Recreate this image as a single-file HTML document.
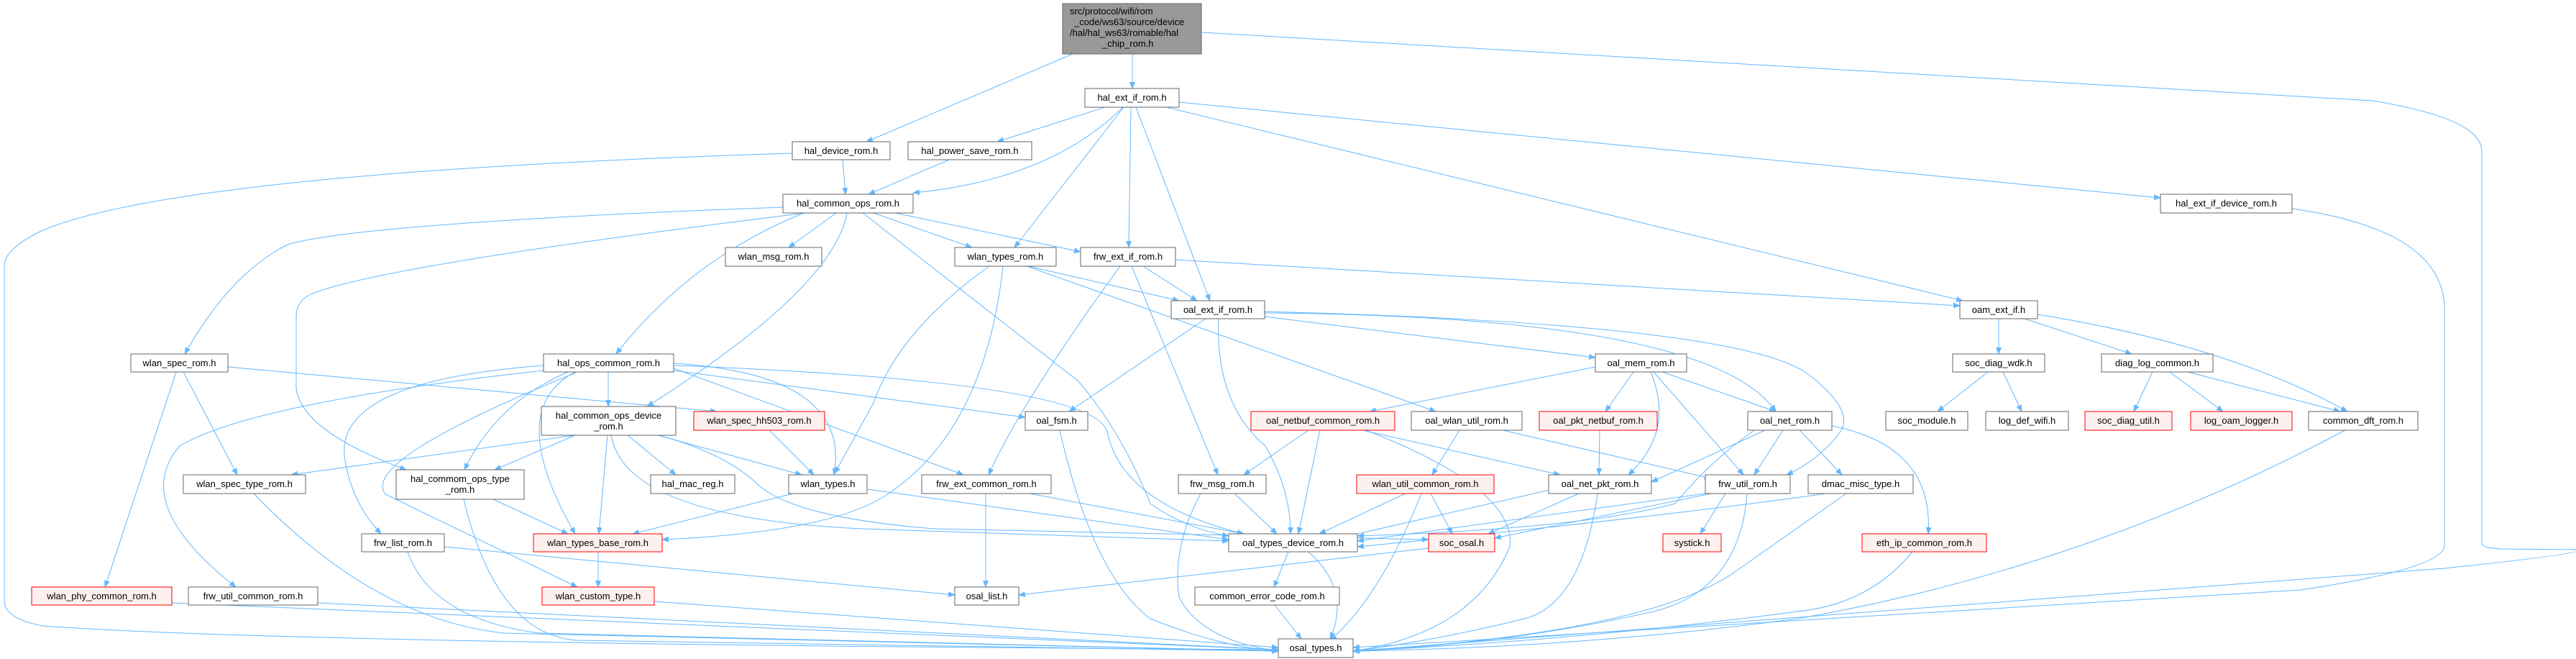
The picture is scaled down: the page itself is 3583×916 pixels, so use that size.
<!DOCTYPE html>
<html><head><meta charset="utf-8"><style>
html,body{margin:0;padding:0;background:#fff;}
svg{display:block;}
text{font-family:"Liberation Sans",sans-serif;font-size:13px;fill:#000;}
.n{fill:#fff;stroke:#666;stroke-width:1;}
.r{fill:#fff0f0;stroke:#f00;stroke-width:1;}
.g{fill:#999;stroke:#666;stroke-width:1;}
.e{fill:none;stroke:#63b8ff;stroke-width:1;marker-end:url(#a);}
</style></head><body>
<svg width="3583" height="916" viewBox="0 0 3583 916" xmlns="http://www.w3.org/2000/svg">
<defs><marker id="a" markerWidth="10" markerHeight="8" refX="9" refY="4" orient="auto" markerUnits="userSpaceOnUse"><path d="M0,0 L10,4 L0,8 z" fill="#63b8ff"/></marker></defs>
<g>
<path class="e" d="M1492,75 L1205,197"/>
<path class="e" d="M1575,75 L1575,123"/>
<path class="e" d="M1671,45 L3300,140 Q3452,165 3452,210 L3452,755 Q3452,762 3480,763 L3590,764 Q3590,770 3400,790 L1882,905"/>
<path class="e" d="M1537,149 L1387,197"/>
<path class="e" d="M1562,149 Q1460,250 1270,268"/>
<path class="e" d="M1563,149 L1411,344"/>
<path class="e" d="M1573,149 L1570,344"/>
<path class="e" d="M1580,149 L1683,418"/>
<path class="e" d="M1640,142 L3005,275"/>
<path class="e" d="M1622,149 L2730,418"/>
<path class="e" d="M1172,222 L1176,270"/>
<path class="e" d="M1102,213 Q250,240 60,320 Q6,345 6,370 L6,835 Q6,860 60,870 Q400,895 1778,903"/>
<path class="e" d="M1320,222 L1208,270"/>
<path class="e" d="M1163,296 L1097,344"/>
<path class="e" d="M1089,288 Q500,310 400,340 Q320,380 257,492"/>
<path class="e" d="M1121,296 Q520,370 430,410 Q412,420 412,440 L412,540 Q420,600 565,653"/>
<path class="e" d="M1118,296 Q960,360 857,492"/>
<path class="e" d="M1178,296 Q1160,400 900,565"/>
<path class="e" d="M1215,296 L1352,344"/>
<path class="e" d="M1245,296 L1503,350"/>
<path class="e" d="M1200,296 L1500,530 Q1560,600 1600,700 Q1650,735 1709,745"/>
<path class="e" d="M1430,370 L1640,418"/>
<path class="e" d="M1428,370 L1997,572"/>
<path class="e" d="M1376,370 Q1250,460 1215,560 L1161,658"/>
<path class="e" d="M1395,370 Q1370,600 1230,690 Q1150,740 921,750"/>
<path class="e" d="M1590,370 L1665,418"/>
<path class="e" d="M1558,370 Q1420,560 1375,660"/>
<path class="e" d="M1574,370 L1694,660"/>
<path class="e" d="M1635,361 L2726,425"/>
<path class="e" d="M1677,443 L1487,572"/>
<path class="e" d="M1695,443 Q1690,560 1760,620 Q1795,680 1795,742"/>
<path class="e" d="M1759,440 L2219,497"/>
<path class="e" d="M1759,435 Q2380,440 2470,572"/>
<path class="e" d="M1759,433 Q2420,450 2515,520 Q2580,570 2560,600 Q2530,640 2485,660"/>
<path class="e" d="M2219,510 L1905,572"/>
<path class="e" d="M2272,517 L2233,572"/>
<path class="e" d="M2296,517 Q2330,600 2265,660"/>
<path class="e" d="M2312,517 L2470,572"/>
<path class="e" d="M2300,517 L2425,660"/>
<path class="e" d="M317,510 L997,572"/>
<path class="e" d="M255,517 L330,660"/>
<path class="e" d="M245,517 L146,816"/>
<path class="e" d="M846,517 L846,565"/>
<path class="e" d="M937,505 Q1185,520 1160,660"/>
<path class="e" d="M790,517 Q690,560 646,653"/>
<path class="e" d="M800,517 Q700,570 800,742"/>
<path class="e" d="M756,508 Q460,530 480,640 Q490,700 530,742"/>
<path class="e" d="M756,515 Q350,560 250,620 Q180,700 328,816"/>
<path class="e" d="M801,518 Q500,640 536,687 L803,816"/>
<path class="e" d="M937,515 L1426,580"/>
<path class="e" d="M937,512 L1340,660"/>
<path class="e" d="M937,508 Q1520,530 1540,600 Q1560,700 1730,742"/>
<path class="e" d="M800,605 L405,660"/>
<path class="e" d="M800,605 L688,653"/>
<path class="e" d="M873,605 L940,660"/>
<path class="e" d="M915,605 L1115,660"/>
<path class="e" d="M845,605 L833,742"/>
<path class="e" d="M850,605 Q870,720 1200,735 L1709,752"/>
<path class="e" d="M916,605 Q1010,630 1057,676 Q1110,720 1300,735 L1987,750"/>
<path class="e" d="M1070,598 L1132,660"/>
<path class="e" d="M353,686 Q520,860 700,880 L1778,905"/>
<path class="e" d="M686,694 L790,742"/>
<path class="e" d="M645,694 Q690,880 800,890 L1778,905"/>
<path class="e" d="M1103,686 L880,742"/>
<path class="e" d="M1206,680 Q1500,720 1709,750"/>
<path class="e" d="M618,760 L1328,827"/>
<path class="e" d="M567,767 Q600,860 750,880 L1778,905"/>
<path class="e" d="M832,767 L832,816"/>
<path class="e" d="M239,838 L1778,903"/>
<path class="e" d="M442,838 L1778,903"/>
<path class="e" d="M910,836 L1778,900"/>
<path class="e" d="M1474,598 Q1520,800 1600,860 Q1700,900 1778,905"/>
<path class="e" d="M1432,686 L1730,742"/>
<path class="e" d="M1371,686 L1371,816"/>
<path class="e" d="M1717,686 L1776,742"/>
<path class="e" d="M1670,686 Q1630,760 1640,830 Q1670,890 1778,905"/>
<path class="e" d="M1820,598 L1730,660"/>
<path class="e" d="M1836,598 L1806,742"/>
<path class="e" d="M1895,598 L2170,660"/>
<path class="e" d="M1900,598 Q2110,680 2100,760 Q2050,880 1882,905"/>
<path class="e" d="M2030,598 L1992,660"/>
<path class="e" d="M2090,598 L2380,665"/>
<path class="e" d="M2225,598 L2224,660"/>
<path class="e" d="M1955,686 L1835,742"/>
<path class="e" d="M1990,686 L2020,742"/>
<path class="e" d="M1977,686 Q1920,830 1850,890"/>
<path class="e" d="M2160,680 L1862,748"/>
<path class="e" d="M2196,686 L2070,742"/>
<path class="e" d="M2222,686 Q2200,840 2120,860 Q2000,890 1882,905"/>
<path class="e" d="M2372,686 L1888,752"/>
<path class="e" d="M2380,686 L2079,748"/>
<path class="e" d="M2400,686 L2365,742"/>
<path class="e" d="M2430,686 Q2420,820 2300,850 Q2100,895 1882,905"/>
<path class="e" d="M2455,598 L2297,670"/>
<path class="e" d="M2480,598 L2440,660"/>
<path class="e" d="M2503,598 L2562,660"/>
<path class="e" d="M2548,592 Q2690,620 2682,742"/>
<path class="e" d="M2440,598 Q2380,640 2330,700 Q2200,735 1888,745"/>
<path class="e" d="M2540,686 Q2300,720 1888,760"/>
<path class="e" d="M2568,686 L2420,790 Q2300,880 1882,905"/>
<path class="e" d="M2660,767 Q2600,840 2500,850 Q2200,890 1882,905"/>
<path class="e" d="M1792,767 L1772,816"/>
<path class="e" d="M1820,767 Q1880,820 1850,888"/>
<path class="e" d="M1987,762 L1417,827"/>
<path class="e" d="M1773,841 L1810,888"/>
<path class="e" d="M2780,443 L2780,492"/>
<path class="e" d="M2816,443 L2965,492"/>
<path class="e" d="M2834,437 Q3100,480 3265,572"/>
<path class="e" d="M2765,517 L2695,572"/>
<path class="e" d="M2786,517 L2812,572"/>
<path class="e" d="M2994,517 L2968,572"/>
<path class="e" d="M3018,517 L3092,572"/>
<path class="e" d="M3043,517 L3255,572"/>
<path class="e" d="M3262,598 Q2900,790 2500,860 Q2200,900 1882,905"/>
<path class="e" d="M3188,290 Q3400,320 3400,430 L3400,758 Q3400,790 3200,820 L1882,900"/>
</g>
<g>
<rect class="g" x="1478" y="5" width="193" height="70"/>
<text x="1488" y="20">src/protocol/wifi/rom</text>
<text x="1494" y="35">_code/ws63/source/device</text>
<text x="1488" y="50">/hal/hal_ws63/romable/hal</text>
<text x="1533" y="65">_chip_rom.h</text>
</g>
<g text-anchor="middle">
<rect class="n" x="1509" y="123" width="131" height="26"/><text x="1574.5" y="140">hal_ext_if_rom.h</text>
<rect class="n" x="1102" y="197" width="136" height="25"/><text x="1170" y="214">hal_device_rom.h</text>
<rect class="n" x="1263" y="197" width="172" height="25"/><text x="1349" y="214">hal_power_save_rom.h</text>
<rect class="n" x="1089" y="270" width="181" height="26"/><text x="1179.5" y="287">hal_common_ops_rom.h</text>
<rect class="n" x="3005" y="270" width="183" height="26"/><text x="3096.5" y="287">hal_ext_if_device_rom.h</text>
<rect class="n" x="1009" y="344" width="134" height="26"/><text x="1076" y="361">wlan_msg_rom.h</text>
<rect class="n" x="1328" y="344" width="141" height="26"/><text x="1398.5" y="361">wlan_types_rom.h</text>
<rect class="n" x="1503" y="344" width="132" height="26"/><text x="1569" y="361">frw_ext_if_rom.h</text>
<rect class="n" x="1629" y="418" width="130" height="25"/><text x="1694" y="435">oal_ext_if_rom.h</text>
<rect class="n" x="2726" y="418" width="108" height="25"/><text x="2780" y="435">oam_ext_if.h</text>
<rect class="n" x="182" y="492" width="135" height="25"/><text x="249.5" y="509">wlan_spec_rom.h</text>
<rect class="n" x="756" y="492" width="181" height="25"/><text x="846.5" y="509">hal_ops_common_rom.h</text>
<rect class="n" x="2219" y="492" width="127" height="25"/><text x="2282.5" y="509">oal_mem_rom.h</text>
<rect class="n" x="2716" y="492" width="128" height="25"/><text x="2780" y="509">soc_diag_wdk.h</text>
<rect class="n" x="2923" y="492" width="155" height="25"/><text x="3000.5" y="509">diag_log_common.h</text>
<rect class="n" x="753" y="565" width="187" height="40"/><text x="846.5" y="582">hal_common_ops_device</text><text x="846.5" y="597">_rom.h</text>
<rect class="r" x="965" y="572" width="182" height="26"/><text x="1056" y="589">wlan_spec_hh503_rom.h</text>
<rect class="n" x="1426" y="572" width="87" height="26"/><text x="1469.5" y="589">oal_fsm.h</text>
<rect class="r" x="1740" y="572" width="200" height="26"/><text x="1840" y="589">oal_netbuf_common_rom.h</text>
<rect class="n" x="1963" y="572" width="154" height="26"/><text x="2040" y="589">oal_wlan_util_rom.h</text>
<rect class="r" x="2141" y="572" width="164" height="26"/><text x="2223" y="589">oal_pkt_netbuf_rom.h</text>
<rect class="n" x="2431" y="572" width="117" height="26"/><text x="2489.5" y="589">oal_net_rom.h</text>
<rect class="n" x="2623" y="572" width="114" height="26"/><text x="2680" y="589">soc_module.h</text>
<rect class="n" x="2762" y="572" width="115" height="26"/><text x="2819.5" y="589">log_def_wifi.h</text>
<rect class="r" x="2900" y="572" width="121" height="26"/><text x="2960.5" y="589">soc_diag_util.h</text>
<rect class="r" x="3047" y="572" width="141" height="26"/><text x="3117.5" y="589">log_oam_logger.h</text>
<rect class="n" x="3211" y="572" width="152" height="26"/><text x="3287" y="589">common_dft_rom.h</text>
<rect class="n" x="255" y="660" width="170" height="26"/><text x="340" y="677">wlan_spec_type_rom.h</text>
<rect class="n" x="551" y="653" width="178" height="41"/><text x="640" y="670">hal_commom_ops_type</text><text x="640" y="685">_rom.h</text>
<rect class="n" x="905" y="660" width="117" height="26"/><text x="963.5" y="677">hal_mac_reg.h</text>
<rect class="n" x="1097" y="660" width="109" height="26"/><text x="1151.5" y="677">wlan_types.h</text>
<rect class="n" x="1282" y="660" width="180" height="26"/><text x="1372" y="677">frw_ext_common_rom.h</text>
<rect class="n" x="1639" y="660" width="122" height="26"/><text x="1700" y="677">frw_msg_rom.h</text>
<rect class="r" x="1887" y="660" width="191" height="26"/><text x="1982.5" y="677">wlan_util_common_rom.h</text>
<rect class="n" x="2154" y="660" width="143" height="26"/><text x="2225.5" y="677">oal_net_pkt_rom.h</text>
<rect class="n" x="2372" y="660" width="118" height="26"/><text x="2431" y="677">frw_util_rom.h</text>
<rect class="n" x="2515" y="660" width="146" height="26"/><text x="2588" y="677">dmac_misc_type.h</text>
<rect class="n" x="503" y="742" width="115" height="25"/><text x="560.5" y="759">frw_list_rom.h</text>
<rect class="r" x="742" y="742" width="179" height="25"/><text x="831.5" y="759">wlan_types_base_rom.h</text>
<rect class="n" x="1709" y="742" width="179" height="25"/><text x="1798.5" y="759">oal_types_device_rom.h</text>
<rect class="r" x="1987" y="742" width="92" height="25"/><text x="2033" y="759">soc_osal.h</text>
<rect class="r" x="2313" y="742" width="81" height="25"/><text x="2353.5" y="759">systick.h</text>
<rect class="r" x="2590" y="742" width="173" height="25"/><text x="2676.5" y="759">eth_ip_common_rom.h</text>
<rect class="r" x="44" y="816" width="195" height="25"/><text x="141.5" y="833">wlan_phy_common_rom.h</text>
<rect class="n" x="262" y="816" width="180" height="25"/><text x="352" y="833">frw_util_common_rom.h</text>
<rect class="r" x="754" y="816" width="156" height="25"/><text x="832" y="833">wlan_custom_type.h</text>
<rect class="n" x="1328" y="816" width="89" height="25"/><text x="1372.5" y="833">osal_list.h</text>
<rect class="n" x="1662" y="816" width="201" height="25"/><text x="1762.5" y="833">common_error_code_rom.h</text>
<rect class="n" x="1778" y="888" width="104" height="26"/><text x="1830" y="905">osal_types.h</text>
</g>
</svg>
</body></html>
